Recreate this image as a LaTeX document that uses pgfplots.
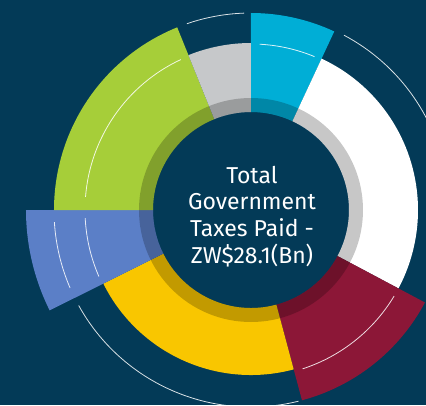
\documentclass[border=0pt]{standalone}
\usepackage{pgfplots}
\pgfplotsset{compat=1.18}
\usepackage{pgfplotstable}
\usepackage{fontspec}
\setmainfont{Fira Sans}

\definecolor{bg}{HTML}{033A57}
\definecolor{seg0}{HTML}{00AED6}
\definecolor{seg1}{HTML}{FFFFFF}
\definecolor{seg2}{HTML}{8C1737}
\definecolor{seg3}{HTML}{F9C600}
\definecolor{seg4}{HTML}{5B7FC7}
\definecolor{seg5}{HTML}{A6CE39}
\definecolor{seg6}{HTML}{C6C8CA}

% segments: start angle, end angle (deg), outer radius
\pgfplotstableread{
a      b      r
90     65     197
65     -28    167
-28    -75    197
-75    -153.5 165
206.5  180    225
180    112    197
112    90     167
}\segs

% thin decorative arcs
\pgfplotstableread{
a      b      r
92     109    197
62     -25    198
209    284    197
87     67.5   166
115    175.5  166
-72    -31    167
183.5  203.3  197
182.8  203.6  166
}\rings

\begin{document}
\begin{tikzpicture}
\begin{axis}[x=1pt, y=1pt, disabledatascaling,
  xmin=-251, xmax=175, ymin=-195, ymax=210,
  hide axis, clip=true]
\fill[bg] (axis cs:-251,-195) rectangle (axis cs:175,210);
\begin{scope}[shift={(axis cs:0,0)}]
\pgfplotsinvokeforeach{0,...,6}{
  \pgfplotstablegetelem{#1}{a}\of\segs \let\sa\pgfplotsretval
  \pgfplotstablegetelem{#1}{b}\of\segs \let\sb\pgfplotsretval
  \pgfplotstablegetelem{#1}{r}\of\segs \let\sr\pgfplotsretval
  \edef\temp{\noexpand\fill[seg#1] (\sa:\sr pt) arc[start angle=\sa, end angle=\sb, radius=\sr pt]
    -- (\sb:98pt) arc[start angle=\sb, end angle=\sa, radius=98pt] -- cycle;}
  \temp
}
\fill[black, opacity=0.22, even odd rule] (0,0) circle[radius=112pt] (0,0) circle[radius=98pt];
\pgfplotsinvokeforeach{0,...,7}{
  \pgfplotstablegetelem{#1}{a}\of\rings \let\sa\pgfplotsretval
  \pgfplotstablegetelem{#1}{b}\of\rings \let\sb\pgfplotsretval
  \pgfplotstablegetelem{#1}{r}\of\rings \let\sr\pgfplotsretval
  \edef\temp{\noexpand\draw[white, opacity=0.85, line width=0.8pt] (\sa:\sr pt) arc[start angle=\sa, end angle=\sb, radius=\sr pt];}
  \temp
}
\end{scope}
\node[anchor=base, text=white, font=\fontsize{23}{26}\selectfont] at (axis cs:1,27) {Total};
\node[anchor=base, text=white, font=\fontsize{23}{26}\selectfont] at (axis cs:1,1) {Government};
\node[anchor=base, text=white, font=\fontsize{23}{26}\selectfont] at (axis cs:1,-26) {Taxes Paid -};
\node[anchor=base, text=white, font=\fontsize{23}{26}\selectfont] at (axis cs:1,-53) {ZW\$28.1(Bn)};
\end{axis}
\end{tikzpicture}
\end{document}
